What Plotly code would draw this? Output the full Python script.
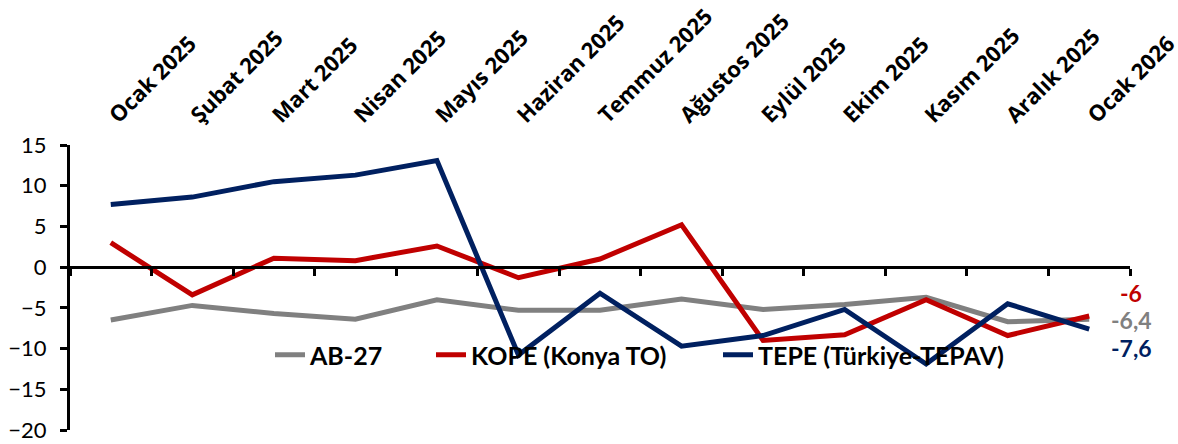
import plotly.graph_objects as go

months = ["Ocak 2025", "Şubat 2025", "Mart 2025", "Nisan 2025", "Mayıs 2025",
          "Haziran 2025", "Temmuz 2025", "Ağustos 2025", "Eylül 2025", "Ekim 2025",
          "Kasım 2025", "Aralık 2025", "Ocak 2026"]
ab27 = [-6.5, -4.7, -5.7, -6.4, -4.0, -5.3, -5.3, -3.9, -5.2, -4.6, -3.7, -6.7, -6.4]
kope = [3.0, -3.4, 1.1, 0.8, 2.6, -1.3, 1.0, 5.2, -9.0, -8.3, -4.0, -8.4, -6.0]
tepe = [7.7, 8.6, 10.5, 11.3, 13.1, -10.8, -3.2, -9.7, -8.4, -5.2, -11.9, -4.5, -7.6]

names = ["AB-27", "KOPE (Konya TO)", "TEPE (Türkiye-TEPAV)"]
colors = ["#808080", "#C00000", "#002060"]
series = [ab27, kope, tepe]
legend_ids = ["legend", "legend2", "legend3"]

W, H = 1178, 444
L, R, T, B = 70, 48, 145, 14
pw = W - L - R

fig = go.Figure()
for name, col, vals, lg in zip(names, colors, series, legend_ids):
    fig.add_trace(go.Scatter(x=months, y=vals, mode="lines", name=name,
                             line=dict(color=col, width=5), legend=lg,
                             hoverinfo="skip"))

# invisible trace for the zero-crossing category axis
fig.add_trace(go.Scatter(x=months, y=[0] * len(months), xaxis="x2", mode="lines",
                         line=dict(width=0, color="rgba(0,0,0,0)"), showlegend=False,
                         hoverinfo="skip"))

# end-of-series value labels
order_shift = {"AB-27": -1, "KOPE (Konya TO)": 23, "TEPE (Türkiye-TEPAV)": -19}
for name, col, vals in zip(names, colors, series):
    v = vals[-1]
    txt = ("%g" % v).replace(".", ",")
    fig.add_annotation(x=months[-1], y=v, text=txt, showarrow=False,
                       xshift=42, yshift=order_shift[name],
                       font=dict(family="Lato", size=23, color=col, weight="bold"))

ymin, ymax = -20, 15
legend_x_px = [270, 431, 718]
legend_y = (430 - 355) / 285
layout_legends = {}
for lg, xp in zip(legend_ids, legend_x_px):
    layout_legends[lg] = dict(x=(xp - L) / pw, y=legend_y, xanchor="left", yanchor="middle",
                              orientation="h", bgcolor="rgba(0,0,0,0)",
                              font=dict(family="Lato", size=25, color="black", weight="bold"))

fig.update_layout(
    width=W, height=H,
    margin=dict(l=L, r=R, t=T, b=B),
    plot_bgcolor="white", paper_bgcolor="white",
    showlegend=True,
    xaxis=dict(type="category", side="top", range=[-0.5, len(months) - 0.5],
               showline=False, ticks="", showgrid=False, zeroline=False,
               tickangle=-45, ticklabelstandoff=12, automargin=False,
               tickfont=dict(family="Open Sans", size=22, color="black", weight="bold")),
    xaxis2=dict(type="category", overlaying="x", matches="x", anchor="free",
                position=(0 - ymin) / (ymax - ymin), side="bottom", automargin=False,
                showline=True, linecolor="black", linewidth=3,
                ticks="outside", tickson="boundaries", ticklen=7, tickwidth=3,
                tickcolor="black", showticklabels=False, showgrid=False, zeroline=False),
    yaxis=dict(range=[ymin, ymax], dtick=5, tick0=0, showgrid=False, zeroline=False,
               showline=True, linecolor="black", linewidth=3, automargin=False,
               ticks="outside", ticklen=7, tickwidth=3, tickcolor="black",
               ticklabelstandoff=9,
               tickfont=dict(family="Lato", size=22, color="black")),
    **layout_legends,
)

fig.write_html("out.html", config={"displayModeBar": False},
               post_script="document.body.style.margin='0';document.body.style.overflow='hidden';")
